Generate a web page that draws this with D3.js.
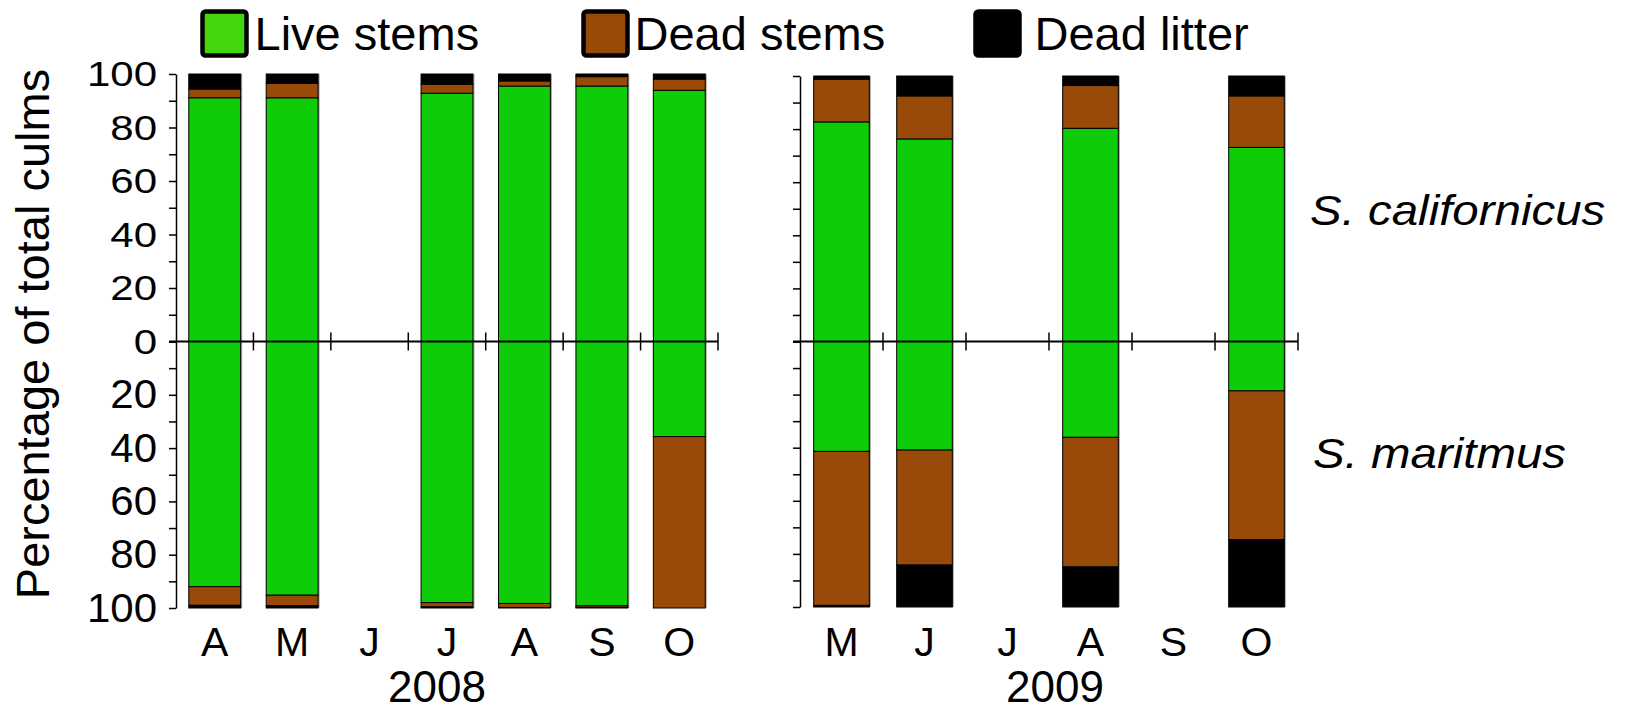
<!DOCTYPE html>
<html lang="en">
<head>
    <meta charset="UTF-8">
    <title>Culm composition 2008-2009</title>
    <script src="https://cdnjs.cloudflare.com/ajax/libs/d3/7.8.5/d3.min.js"></script>
    <style>
        body { margin: 0; background: #fff; }
        svg { display: block; font-family: "Liberation Sans", Arial, sans-serif; }
        .axis path, .axis line { stroke: #000; stroke-width: 1.5; }
    </style>
</head>
<body>
    <div id="chart"></div>

    <script>
        // months per year
        const months2008 = ["A", "M", "J", "J", "A", "S", "O"];
        const months2009 = ["M", "J", "J", "A", "S", "O"];

        // S. californicus (upper half), % of total culms; null = not sampled
        const live2008Top   = [91.1, 91.1, null, 92.8, 95.5, 95.5, 93.9];
        const dead2008Top   = [3.3, 5.4, null, 3.4, 1.9, 3.5, 4.2];
        const litter2008Top = [5.6, 3.5, null, 3.8, 2.6, 1.0, 1.9];

        const live2009Top   = [82.7, 76.3, null, 80.3, null, 73.1];
        const dead2009Top   = [16.1, 16.2, null, 16.1, null, 19.4];
        const litter2009Top = [1.2, 7.5, null, 3.6, null, 7.5];

        // S. maritmus (lower half)
        const live2008Bot   = [92.0, 95.2, null, 98.0, 98.3, 99.2, 35.7];
        const dead2008Bot   = [7.0, 4.0, null, 1.6, 1.5, 0.6, 64.3];
        const litter2008Bot = [1.0, 0.8, null, 0.4, 0.2, 0.2, 0];

        const live2009Bot   = [41.4, 40.9, null, 36.1, null, 18.6];
        const dead2009Bot   = [58.0, 43.3, null, 48.8, null, 56.0];
        const litter2009Bot = [0.6, 15.8, null, 15.1, null, 25.4];

        const yTicks = [0, 10, 20, 30, 40, 50, 60, 70, 80, 90, 100];
        const legendLabels = ["Live stems", "Dead stems", "Dead litter"];
        const years = ["2008", "2009"];
        const species = ["S. californicus", "S. maritmus"];

        const keys = ["live", "dead", "litter"];
        const barColor = { live: "#0ecc08", dead: "#994a08", litter: "#000000" };
        const legendColor = ["#44d60c", "#994a08", "#000000"];

        const W = 1626, H = 712, zeroY = 341.5;

        const svg = d3.select("#chart").append("svg")
            .attr("width", W)
            .attr("height", H);

        // text with a horizontal stretch, the original figure is a bit wide
        function label(x, y, txt, size, sx, anchor, opts) {
            opts = opts || {};
            return svg.append("text")
                .attr("transform", `translate(${x},${y}) scale(${sx},1)`)
                .attr("font-size", size)
                .attr("text-anchor", anchor)
                .attr("dominant-baseline", opts.middle ? "central" : null)
                .attr("font-style", opts.italic ? "italic" : null)
                .text(txt);
        }

        const panels = [
            {
                months: months2008, year: years[0], x0: 176, x1: 718, top: 74, bottom: 608,
                lineStart: 169, yearX: 437, tickLabels: true,
                upper: [live2008Top, dead2008Top, litter2008Top],
                lower: [live2008Bot, dead2008Bot, litter2008Bot]
            },
            {
                months: months2009, year: years[1], x0: 800, x1: 1298, top: 76, bottom: 607,
                lineStart: 793, yearX: 1055, tickLabels: false,
                upper: [live2009Top, dead2009Top, litter2009Top],
                lower: [live2009Bot, dead2009Bot, litter2009Bot]
            }
        ];

        panels.forEach(p => {
            const n = p.months.length;
            const x = d3.scaleBand()
                .domain(d3.range(n))
                .range([p.x0, p.x1])
                .paddingInner(0.33)
                .paddingOuter(0.165);
            const yUp = d3.scaleLinear().domain([0, 100]).range([zeroY, p.top]);
            const yDown = d3.scaleLinear().domain([0, 100]).range([zeroY, p.bottom]);

            const toRows = arrs => p.months.map((m, i) => ({
                i: i, live: arrs[0][i], dead: arrs[1][i], litter: arrs[2][i]
            })).filter(r => r.live != null);

            const upRows = toRows(p.upper);
            const downRows = toRows(p.lower);
            const stack = d3.stack().keys(keys);

            // soft grey shadow on the right edge of each bar
            const shadow = svg.append("g").attr("fill", "#a0a0a0");
            upRows.forEach(r => {
                const tot = r.live + r.dead + r.litter;
                shadow.append("rect")
                    .attr("x", x(r.i) + 1.5)
                    .attr("y", yUp(tot))
                    .attr("width", x.bandwidth())
                    .attr("height", zeroY - yUp(tot));
            });
            downRows.forEach(r => {
                const tot = r.live + r.dead + r.litter;
                shadow.append("rect")
                    .attr("x", x(r.i) + 1.5)
                    .attr("y", zeroY)
                    .attr("width", x.bandwidth())
                    .attr("height", yDown(tot) - zeroY);
            });

            // upper bars (S. californicus)
            svg.append("g").selectAll("g")
                .data(stack(upRows))
                .join("g")
                .attr("fill", s => barColor[s.key])
                .selectAll("rect")
                .data(s => s)
                .join("rect")
                .attr("x", d => x(d.data.i))
                .attr("y", d => yUp(d[1]))
                .attr("width", x.bandwidth())
                .attr("height", d => yUp(d[0]) - yUp(d[1]))
                .attr("stroke", "#000")
                .attr("stroke-width", 1);

            // lower bars (S. maritmus)
            svg.append("g").selectAll("g")
                .data(stack(downRows))
                .join("g")
                .attr("fill", s => barColor[s.key])
                .selectAll("rect")
                .data(s => s)
                .join("rect")
                .attr("x", d => x(d.data.i))
                .attr("y", d => yDown(d[0]))
                .attr("width", x.bandwidth())
                .attr("height", d => yDown(d[1]) - yDown(d[0]))
                .attr("stroke", "#000")
                .attr("stroke-width", 1);

            // y axes, ticks every 10 both ways
            svg.append("g")
                .attr("class", "axis")
                .attr("transform", `translate(${p.x0},0)`)
                .call(d3.axisLeft(yUp).tickValues(yTicks).tickSize(7).tickSizeOuter(0).tickFormat(""));
            svg.append("g")
                .attr("class", "axis")
                .attr("transform", `translate(${p.x0},0)`)
                .call(d3.axisLeft(yDown).tickValues(yTicks).tickSize(7).tickSizeOuter(0).tickFormat(""));

            if (p.tickLabels) {
                yTicks.filter(v => v % 20 === 0).forEach(v => {
                    label(157, yUp(v), v, 35, 1.2, "end", { middle: true });
                    if (v > 0) label(157, yDown(v), v, 40, 1.05, "end", { middle: true });
                });
            }

            // zero line with crossing ticks at month boundaries
            svg.append("line")
                .attr("x1", p.lineStart).attr("x2", p.x1)
                .attr("y1", zeroY).attr("y2", zeroY)
                .attr("stroke", "#000").attr("stroke-width", 2);
            svg.append("g").selectAll("line")
                .data(d3.range(1, n + 1))
                .join("line")
                .attr("x1", k => p.x0 + k * x.step())
                .attr("x2", k => p.x0 + k * x.step())
                .attr("y1", zeroY - 9).attr("y2", zeroY + 9)
                .attr("stroke", "#000").attr("stroke-width", 1.5);

            // month + year labels
            p.months.forEach((m, i) => {
                label(x(i) + x.bandwidth() / 2, 656, m, 41, 1, "middle");
            });
            label(p.yearX, 702, p.year, 44, 1, "middle");
        });

        // y title
        svg.append("text")
            .attr("transform", "translate(49,334) rotate(-90)")
            .attr("font-size", 47)
            .attr("text-anchor", "middle")
            .text("Percentage of total culms");

        // species names
        label(1310, 225, species[0], 42, 1.13, "start", { italic: true });
        label(1313, 468, species[1], 42, 1.13, "start", { italic: true });

        // legend
        const legendX = [200, 581, 973];
        const legendTextX = [254.5, 634.5, 1034.5];
        legendLabels.forEach((t, i) => {
            svg.append("rect")
                .attr("x", legendX[i] + 2.5)
                .attr("y", 11.5)
                .attr("width", 44)
                .attr("height", 44)
                .attr("rx", 3)
                .attr("fill", legendColor[i])
                .attr("stroke", "#000")
                .attr("stroke-width", 4.5);
            label(legendTextX[i], 50, t, 47, 1, "start");
        });
    </script>
</body>
</html>
